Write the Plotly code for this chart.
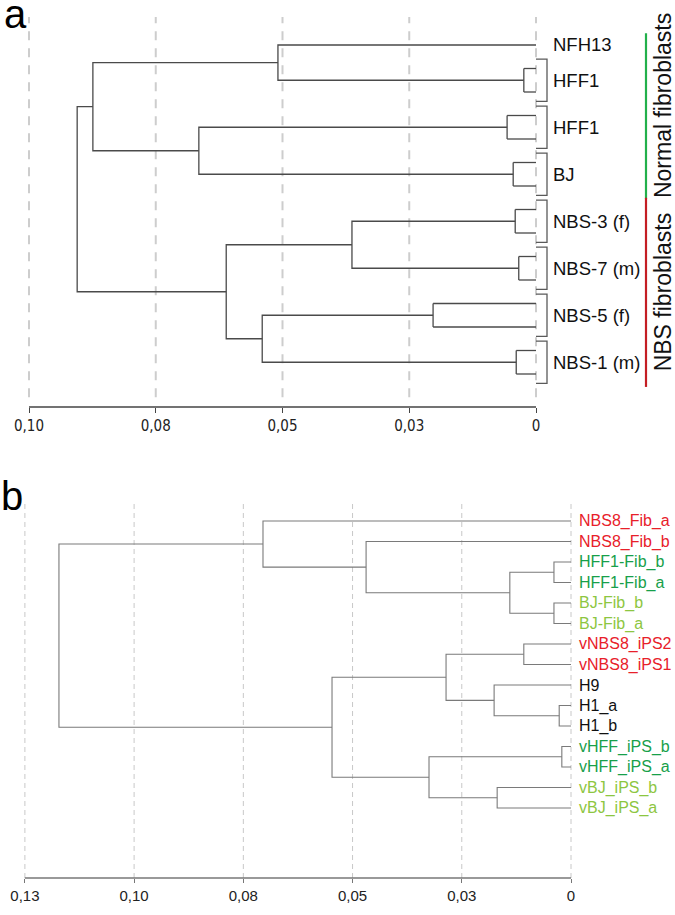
import plotly.graph_objects as go

# ---------------- Panel a data ----------------
labels_a = ["NFH13", "HFF1", "HFF1", "BJ", "NBS-3 (f)", "NBS-7 (m)", "NBS-5 (f)", "NBS-1 (m)"]
replicates_a = [1, 2, 2, 2, 2, 2, 2, 2]
rep_height_a = [0.0, 0.0024, 0.0057, 0.0045, 0.0041, 0.0034, 0.0203, 0.0039]
merge_left_a = [0, 2, 8, 4, 6, 11, 10]
merge_right_a = [1, 3, 9, 5, 7, 12, 13]
merge_height_a = [0.0509, 0.0665, 0.0874, 0.0363, 0.0540, 0.0611, 0.0905]
groups_a = ["Normal fibroblasts", "NBS fibroblasts"]
group_members_a = [[0, 1, 2, 3], [4, 5, 6, 7]]
tickvals_a = [0.1, 0.075, 0.05, 0.025, 0.0]
ticktext_a = ["0,10", "0,08", "0,05", "0,03", "0"]

# ---------------- Panel b data ----------------
labels_b = ["NBS8_Fib_a", "NBS8_Fib_b", "HFF1-Fib_b", "HFF1-Fib_a", "BJ-Fib_b", "BJ-Fib_a",
            "vNBS8_iPS2", "vNBS8_iPS1", "H9", "H1_a", "H1_b",
            "vHFF_iPS_b", "vHFF_iPS_a", "vBJ_iPS_b", "vBJ_iPS_a"]
origin_b = ["NBS", "NBS", "HFF", "HFF", "BJ", "BJ", "NBS", "NBS", "ES", "ES", "ES",
            "HFF", "HFF", "BJ", "BJ"]
merge_left_b = [2, 4, 15, 1, 0, 6, 9, 8, 20, 11, 13, 24, 23, 19]
merge_right_b = [3, 5, 16, 17, 18, 7, 10, 21, 22, 12, 14, 25, 26, 27]
merge_height_b = [0.0039, 0.0039, 0.0140, 0.0469, 0.0705, 0.0108, 0.0027, 0.0176,
                  0.0286, 0.0021, 0.0169, 0.0325, 0.0547, 0.1172]
tickvals_b = [0.125, 0.1, 0.075, 0.05, 0.025, 0.0]
ticktext_b = ["0,13", "0,10", "0,08", "0,05", "0,03", "0"]

# ---------------- styling ----------------
W, H = 675, 915
colors_b = {"NBS": "#e8202a", "HFF": "#17a04a", "BJ": "#8dc641", "ES": "#111111"}
FONT = "Liberation Sans, Arial, Helvetica, sans-serif"
NARROW = "Liberation Sans Narrow, Arial Narrow, DejaVu Sans Condensed, Liberation Sans, sans-serif"

# pixel geometry (layout only)
a_zero_px, a_px_per_unit = 536, 5070.0
b_zero_px, b_px_per_unit = 571, 4369.0
a_row0, a_rowstep, a_top, a_bot = 45, 23.5, 17, 407
b_row0, b_rowstep, b_top, b_bot = 521, 20.5, 502, 878


def link_segments(node_x, node_y, lefts, rights, heights):
    xs, ys = [], []
    for l, r, h in zip(lefts, rights, heights):
        xs += [node_x[l], h, h, node_x[r], None]
        ys += [node_y[l], node_y[l], node_y[r], node_y[r], None]
        node_x.append(h)
        node_y.append((node_y[l] + node_y[r]) / 2)
    return xs, ys


# ---- panel a geometry from data ----
xs_a, ys_a = [], []
node_x_a, node_y_a = [], []
group_rows_a = []
row = 0
for k, hrep in zip(replicates_a, rep_height_a):
    rows = list(range(row, row + k))
    row += k
    group_rows_a.append(rows)
    if k > 1:
        for rr in rows:
            xs_a += [0.0, hrep, None]
            ys_a += [rr, rr, None]
        xs_a += [hrep, hrep, None]
        ys_a += [rows[0], rows[-1], None]
    node_x_a.append(hrep if k > 1 else 0.0)
    node_y_a.append(sum(rows) / len(rows))
mx, my = link_segments(node_x_a, node_y_a, merge_left_a, merge_right_a, merge_height_a)
xs_a += mx
ys_a += my

# brackets next to replicate pairs
bw = 11 / a_px_per_unit
bx, by = [], []
for rows in group_rows_a:
    if len(rows) > 1:
        y0, y1 = rows[0] - 0.4, rows[-1] + 0.4
        bx += [0.0, -bw, -bw, 0.0, None]
        by += [y0, y0, y1, y1, None]

# ---- panel b geometry ----
node_x_b = [0.0] * len(labels_b)
node_y_b = list(range(len(labels_b)))
xs_b, ys_b = link_segments(node_x_b, node_y_b, merge_left_b, merge_right_b, merge_height_b)

fig = go.Figure()
fig.add_trace(go.Scatter(x=xs_a, y=ys_a, mode="lines", line=dict(color="#4a4a4a", width=1.3),
                         xaxis="x", yaxis="y", hoverinfo="skip"))
fig.add_trace(go.Scatter(x=bx, y=by, mode="lines", line=dict(color="#5a5a5a", width=1.3),
                         xaxis="x", yaxis="y", hoverinfo="skip"))
fig.add_trace(go.Scatter(x=xs_b, y=ys_b, mode="lines", line=dict(color="#7a7a7a", width=1.1),
                         xaxis="x2", yaxis="y2", hoverinfo="skip"))

shapes = []
annotations = []

# grid lines + axis lines
for tv in tickvals_a:
    shapes.append(dict(type="line", xref="x", yref="y domain", x0=tv, x1=tv, y0=0.025, y1=1,
                       line=dict(color="#cdcdcd", width=2, dash="9px,8px"), layer="below"))
shapes.append(dict(type="line", xref="x", yref="y domain", x0=tickvals_a[0], x1=tickvals_a[-1],
                   y0=0, y1=0, line=dict(color="#444444", width=1.3)))
for tv in tickvals_b:
    shapes.append(dict(type="line", xref="x2", yref="y2 domain", x0=tv, x1=tv, y0=0.0, y1=1,
                       line=dict(color="#c8c8c8", width=1, dash="5px,4px"), layer="below"))
shapes.append(dict(type="line", xref="x2", yref="y2 domain", x0=tickvals_b[0], x1=tickvals_b[-1],
                   y0=0, y1=0, line=dict(color="#777777", width=1.3)))

# leaf labels panel a
for lab, yv in zip(labels_a, node_y_a[:len(labels_a)]):
    annotations.append(dict(x=0, y=yv, xref="x", yref="y", text=lab, showarrow=False,
                            xanchor="left", yanchor="middle", xshift=15,
                            font=dict(family=FONT, size=18.5, color="#111111")))
# leaf labels panel b
for i, (lab, org) in enumerate(zip(labels_b, origin_b)):
    annotations.append(dict(x=0, y=i, xref="x2", yref="y2", text=lab, showarrow=False,
                            xanchor="left", yanchor="middle", xshift=6,
                            font=dict(family=FONT, size=16, color=colors_b[org])))

# group bars panel a
group_colors = ["#22b04b", "#c41e24"]
group_label_shift = [10, 0]
for gname, members, gc, gs in zip(groups_a, group_members_a, group_colors, group_label_shift):
    r0 = group_rows_a[members[0]][0]
    r1 = group_rows_a[members[-1]][-1]
    y0, y1 = r0 - 0.5, r1 + 0.55
    shapes.append(dict(type="line", xref="paper", yref="y", x0=646 / W, x1=646 / W, y0=y0, y1=y1,
                       line=dict(color=gc, width=2.2)))
    annotations.append(dict(x=663 / W, y=(y0 + y1) / 2, xref="paper", yref="y", text=gname,
                            showarrow=False, textangle=-90, xanchor="center", yanchor="middle",
                            borderpad=0, yshift=gs,
                            font=dict(family=FONT, size=23, color="#111111")))

# panel letters
annotations.append(dict(x=15 / W, y=1 - 14 / H, xref="paper", yref="paper", text="a", showarrow=False,
                        xanchor="center", yanchor="middle", borderpad=0,
                        font=dict(family=FONT, size=40, color="#000")))
annotations.append(dict(x=12 / W, y=1 - 496 / H, xref="paper", yref="paper", text="b", showarrow=False,
                        xanchor="center", yanchor="middle", borderpad=0,
                        font=dict(family=FONT, size=40, color="#000")))

xrange_a = [a_zero_px / a_px_per_unit, (a_zero_px - W) / a_px_per_unit]
xrange_b = [b_zero_px / b_px_per_unit, (b_zero_px - W) / b_px_per_unit]
yrange_a = [(a_bot - a_row0) / a_rowstep, (a_top - a_row0) / a_rowstep]
yrange_b = [(b_bot - b_row0) / b_rowstep, (b_top - b_row0) / b_rowstep]

fig.update_layout(
    width=W, height=H, margin=dict(l=0, r=0, t=0, b=0),
    paper_bgcolor="white", plot_bgcolor="rgba(0,0,0,0)", showlegend=False,
    xaxis=dict(domain=[0, 1], range=xrange_a, tickmode="array", tickvals=tickvals_a, ticktext=ticktext_a,
               showgrid=False, zeroline=False, showline=False, ticks="outside", ticklen=5,
               tickcolor="#444444", tickwidth=1.3, anchor="y",
               tickfont=dict(family=NARROW, size=15, color="#222222")),
    yaxis=dict(domain=[1 - a_bot / H, 1 - a_top / H], range=yrange_a, visible=False, anchor="x"),
    xaxis2=dict(domain=[0, 1], range=xrange_b, tickmode="array", tickvals=tickvals_b, ticktext=ticktext_b,
                showgrid=False, zeroline=False, showline=False, ticks="outside", ticklen=4,
                tickcolor="#777777", tickwidth=1.2, anchor="y2",
                tickfont=dict(family=FONT, size=15, color="#222222")),
    yaxis2=dict(domain=[1 - b_bot / H, 1 - b_top / H], range=yrange_b, visible=False, anchor="x2"),
    shapes=shapes, annotations=annotations,
)

fig.write_html("out.html", config={"displayModeBar": False},
               post_script="document.body.style.margin='0px';document.body.style.overflow='hidden';")
